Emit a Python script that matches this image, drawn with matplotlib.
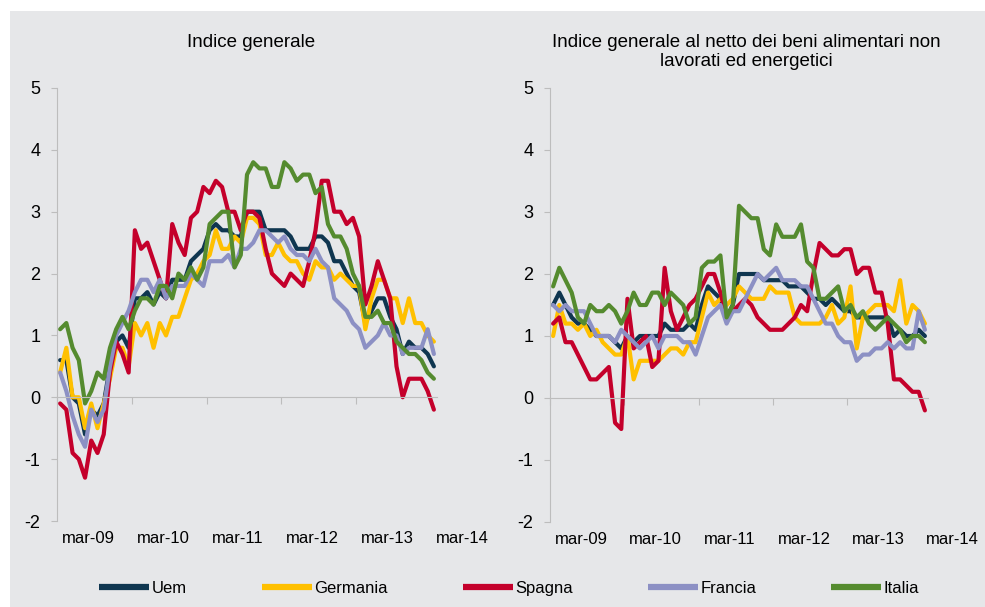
import numpy as np
import matplotlib.pyplot as plt
from matplotlib import transforms
from matplotlib.patches import Rectangle
from matplotlib.lines import Line2D

plt.rcParams["font.family"] = ["Liberation Sans", "DejaVu Sans"]

# monthly data, mar-2009 .. mar-2014 (61 months)
n_months = 61
tick_labels = ["mar-09", "mar-10", "mar-11", "mar-12", "mar-13", "mar-14"]
series_names = ["Uem", "Germania", "Spagna", "Francia", "Italia"]

# Indice generale
uem_gen = [0.6, 0.6, 0.0, -0.1, -0.6, -0.2, -0.3, -0.1, 0.5, 0.9,
           1.0, 0.8, 1.6, 1.6, 1.7, 1.5, 1.7, 1.6, 1.9, 1.9, 1.9, 2.2,
           2.3, 2.4, 2.7, 2.8, 2.7, 2.7, 2.6, 2.6, 3.0, 3.0, 3.0, 2.7,
           2.7, 2.7, 2.7, 2.6, 2.4, 2.4, 2.4, 2.6, 2.6, 2.5, 2.2, 2.2,
           2.0, 1.8, 1.7, 1.2, 1.4, 1.6, 1.6, 1.3, 1.1, 0.7, 0.9, 0.8,
           0.8, 0.7, 0.5]
ger_gen = [0.4, 0.8, 0.0, 0.0, -0.5, -0.1, -0.5, -0.1, 0.3, 0.8,
           0.8, 0.5, 1.2, 1.0, 1.2, 0.8, 1.2, 1.0, 1.3, 1.3, 1.6, 1.9,
           2.0, 2.2, 2.3, 2.7, 2.4, 2.4, 2.6, 2.5, 2.9, 2.9, 2.8, 2.3,
           2.3, 2.5, 2.3, 2.2, 2.2, 2.0, 1.9, 2.2, 2.1, 2.1, 1.9, 2.0,
           1.9, 1.8, 1.8, 1.1, 1.6, 1.9, 1.9, 1.6, 1.6, 1.2, 1.6, 1.2,
           1.2, 1.0, 0.9]
spa_gen = [-0.1, -0.2, -0.9, -1.0, -1.3, -0.7, -0.9, -0.6, 0.4, 0.9,
           0.7, 0.4, 2.7, 2.4, 2.5, 2.2, 1.9, 1.6, 2.8, 2.5, 2.3, 2.9,
           3.0, 3.4, 3.3, 3.5, 3.4, 3.0, 3.0, 2.7, 3.0, 3.0, 2.9, 2.4,
           2.0, 1.9, 1.8, 2.0, 1.9, 1.8, 2.2, 2.7, 3.5, 3.5, 3.0, 3.0,
           2.8, 2.9, 2.6, 1.5, 1.8, 2.2, 1.9, 1.6, 0.5, 0.0, 0.3, 0.3,
           0.3, 0.1, -0.2]
fra_gen = [0.4, 0.1, -0.3, -0.6, -0.8, -0.2, -0.4, -0.2, 0.5, 1.0,
           1.2, 1.4, 1.7, 1.9, 1.9, 1.7, 1.9, 1.6, 1.8, 1.8, 1.8, 2.0,
           1.9, 1.8, 2.2, 2.2, 2.2, 2.3, 2.1, 2.4, 2.4, 2.5, 2.7, 2.7,
           2.6, 2.5, 2.6, 2.4, 2.3, 2.3, 2.2, 2.4, 2.2, 2.1, 1.6, 1.5,
           1.4, 1.2, 1.1, 0.8, 0.9, 1.0, 1.2, 1.0, 1.0, 0.7, 0.8, 0.8,
           0.8, 1.1, 0.7]
ita_gen = [1.1, 1.2, 0.8, 0.6, -0.1, 0.1, 0.4, 0.3, 0.8, 1.1,
           1.3, 1.1, 1.4, 1.6, 1.6, 1.5, 1.8, 1.8, 1.6, 2.0, 1.9, 2.1,
           1.9, 2.1, 2.8, 2.9, 3.0, 3.0, 2.1, 2.3, 3.6, 3.8, 3.7, 3.7,
           3.4, 3.4, 3.8, 3.7, 3.5, 3.6, 3.6, 3.3, 3.4, 2.8, 2.6, 2.6,
           2.4, 2.0, 1.8, 1.3, 1.3, 1.4, 1.2, 1.2, 0.9, 0.8, 0.7, 0.7,
           0.6, 0.4, 0.3]

# Indice generale al netto dei beni alimentari non lavorati ed energetici
uem_core = [1.5, 1.7, 1.5, 1.3, 1.2, 1.2, 1.1, 1.0, 1.0, 1.0,
            0.9, 0.8, 1.0, 0.9, 1.0, 1.0, 1.0, 1.0, 1.2, 1.1, 1.1, 1.1,
            1.2, 1.1, 1.5, 1.8, 1.7, 1.6, 1.3, 1.5, 2.0, 2.0, 2.0, 2.0,
            1.9, 1.9, 1.9, 1.9, 1.8, 1.8, 1.8, 1.7, 1.6, 1.6, 1.5, 1.6,
            1.5, 1.4, 1.4, 1.3, 1.3, 1.3, 1.3, 1.3, 1.3, 1.0, 1.1, 1.0,
            1.0, 1.1, 1.0]
ger_core = [1.0, 1.5, 1.2, 1.2, 1.1, 1.2, 1.0, 1.1, 0.9, 0.8,
            0.7, 0.7, 1.0, 0.3, 0.6, 0.6, 0.6, 0.6, 0.7, 0.8, 0.8, 0.7,
            0.9, 0.9, 1.3, 1.7, 1.5, 1.6, 1.5, 1.6, 1.8, 1.7, 1.6, 1.6,
            1.6, 1.8, 1.7, 1.7, 1.7, 1.3, 1.2, 1.2, 1.2, 1.2, 1.3, 1.5,
            1.2, 1.3, 1.8, 0.8, 1.3, 1.4, 1.5, 1.5, 1.5, 1.4, 1.9, 1.2,
            1.5, 1.4, 1.2]
spa_core = [1.2, 1.3, 0.9, 0.9, 0.7, 0.5, 0.3, 0.3, 0.4, 0.5,
            -0.4, -0.5, 1.6, 0.8, 0.9, 1.0, 0.5, 0.6, 2.1, 1.4, 1.1, 1.3,
            1.5, 1.6, 1.8, 2.0, 2.0, 1.7, 1.3, 1.4, 1.5, 1.6, 1.5, 1.3,
            1.2, 1.1, 1.1, 1.1, 1.2, 1.3, 1.5, 1.4, 2.0, 2.5, 2.4, 2.3,
            2.3, 2.4, 2.4, 2.0, 2.1, 2.1, 1.7, 1.7, 1.2, 0.3, 0.3, 0.2,
            0.1, 0.1, -0.2]
fra_core = [1.5, 1.4, 1.5, 1.4, 1.4, 1.4, 1.2, 1.0, 1.0, 1.0,
            0.9, 1.1, 1.0, 0.9, 0.8, 0.9, 1.0, 0.8, 1.0, 1.0, 1.0, 0.9,
            0.9, 0.7, 1.0, 1.3, 1.4, 1.5, 1.2, 1.4, 1.4, 1.6, 1.8, 2.0,
            1.9, 2.0, 2.1, 1.9, 1.9, 1.9, 1.8, 1.8, 1.6, 1.4, 1.2, 1.2,
            1.0, 0.9, 0.9, 0.6, 0.7, 0.7, 0.8, 0.8, 0.9, 0.8, 0.9, 0.8,
            0.8, 1.4, 1.1]
ita_core = [1.8, 2.1, 1.9, 1.7, 1.3, 1.2, 1.5, 1.4, 1.4, 1.5,
            1.4, 1.2, 1.4, 1.7, 1.5, 1.5, 1.7, 1.7, 1.5, 1.7, 1.6, 1.5,
            1.2, 1.3, 2.1, 2.2, 2.2, 2.3, 1.3, 1.5, 3.1, 3.0, 2.9, 2.9,
            2.4, 2.3, 2.8, 2.6, 2.6, 2.6, 2.8, 2.2, 2.1, 1.6, 1.6, 1.7,
            1.8, 1.4, 1.5, 1.3, 1.4, 1.2, 1.1, 1.2, 1.3, 1.2, 1.1, 0.9,
            1.0, 1.0, 0.9]

colors = ["#0F3650", "#FFC000", "#C4002B", "#8C90C4", "#558B2F"]
bg = "#E6E7E9"
axis_gray = "#BDBDBD"

x = np.arange(n_months) + 0.5
label_pos = [5, 17, 29, 41, 53, 65]

fig = plt.figure(figsize=(9.85, 6.07), dpi=100, facecolor="white")
fig.patches.append(Rectangle((10 / 985, 0), 1 - 10 / 985, 1 - 11 / 607,
                             transform=fig.transFigure, facecolor=bg,
                             edgecolor="none", zorder=-10))

ax1 = fig.add_axes([57 / 985, 1 - 521 / 607, 380 / 985, 433 / 607])
ax2 = fig.add_axes([550 / 985, 1 - 522 / 607, 378 / 985, 434 / 607])

panels = [
    (ax1, [uem_gen, ger_gen, spa_gen, fra_gen, ita_gen],
     "Indice generale", 0.51),
    (ax2, [uem_core, ger_core, spa_core, fra_core, ita_core],
     "Indice generale al netto dei beni alimentari non\nlavorati ed energetici", 0.52),
]

for ax, data, title, tx in panels:
    ax.set_facecolor("none")
    for vals, col in zip(data, colors):
        ax.plot(x, vals, color=col, linewidth=3.0,
                solid_joinstyle="round", solid_capstyle="round")
    ax.set_xlim(0, n_months)
    ax.set_ylim(-2, 5)
    ax.set_yticks(range(-2, 6))
    ax.set_yticklabels([str(v) for v in range(-2, 6)], fontsize=13)
    ax.tick_params(axis="y", length=4, color=axis_gray, pad=8)
    ax.set_xticks(np.arange(0, n_months, 12))
    ax.set_xticklabels([])
    ax.tick_params(axis="x", length=5, color=axis_gray, direction="out")
    for s in ["top", "right"]:
        ax.spines[s].set_visible(False)
    ax.spines["left"].set_color(axis_gray)
    ax.spines["bottom"].set_color(axis_gray)
    ax.spines["bottom"].set_position(("data", 0))
    trans = transforms.blended_transform_factory(ax.transData, ax.transAxes)
    for p, lab in zip(label_pos, tick_labels):
        ax.text(p, -0.022, lab, transform=trans, ha="center", va="top",
                fontsize=12, clip_on=False)
    ax.text(tx, 1.125, title, transform=ax.transAxes, ha="center", va="top",
            fontsize=13.5, linespacing=1.2)

handles = [Line2D([], [], color=c, linewidth=4.5, solid_capstyle="butt")
           for c in colors]
fig.legend(handles, series_names, loc="center", bbox_to_anchor=(0.517, 0.031),
           ncol=5, frameon=False, fontsize=12, handlelength=3.0,
           handletextpad=0.15, columnspacing=4.5)

fig.savefig("out.png", dpi=100, facecolor="white")
